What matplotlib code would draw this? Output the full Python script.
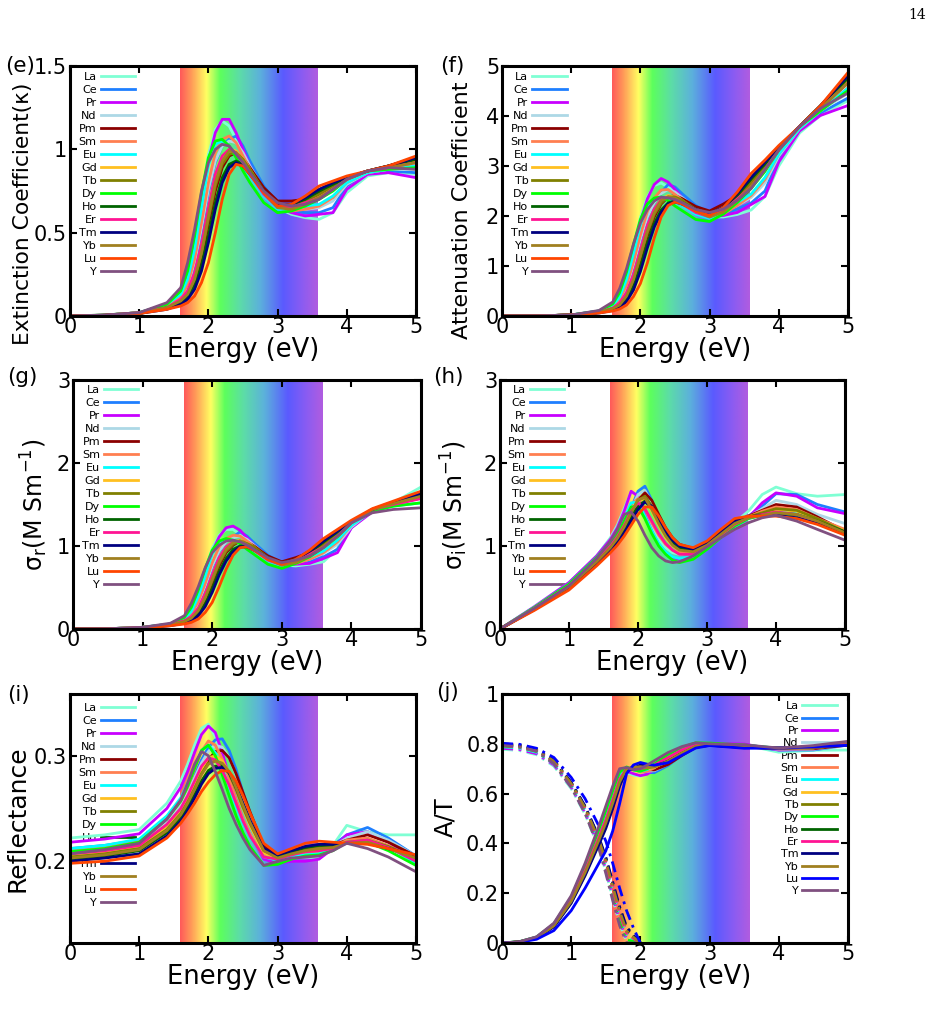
import numpy as np
import matplotlib.pyplot as plt
from matplotlib.colors import LinearSegmentedColormap
from matplotlib.ticker import FuncFormatter

plt.rcParams['font.family'] = ['DejaVu Sans']
plt.rcParams['mathtext.fontset'] = 'dejavusans'

elements = ['La', 'Ce', 'Pr', 'Nd', 'Pm', 'Sm', 'Eu', 'Gd', 'Tb', 'Dy', 'Ho', 'Er', 'Tm', 'Yb', 'Lu', 'Y']
colors = ['#7fffd4', '#1e7fff', '#c800ff', '#add8e6', '#8b0000', '#ff7f50', '#00ffff', '#ffc020',
          '#808000', '#00ff00', '#006400', '#ff1493', '#000080', '#a08020', '#ff4500', '#805080']
colors_j = colors[:14] + ['#0000ff', '#805080']

# photon energy grid (eV) for panels e-i
energy = [0, 0.5, 1.0, 1.4, 1.6, 1.7, 1.8, 1.9, 2.0, 2.1, 2.2, 2.3, 2.4, 2.5, 2.6,
          2.8, 3.0, 3.2, 3.4, 3.6, 3.8, 4.0, 4.3, 4.6, 5.0]

# (e) extinction coefficient
kappa = [
    [0, 0.005, 0.02, 0.07, 0.14, 0.25, 0.45, 0.72, 0.97, 1.12, 1.17, 1.14, 1.06, 0.97, 0.88, 0.74, 0.65, 0.61, 0.59, 0.58, 0.62, 0.74, 0.84, 0.86, 0.85],  # La
    [0, 0.005, 0.02, 0.06, 0.10, 0.17, 0.30, 0.50, 0.74, 0.92, 1.02, 1.06, 1.08, 1.02, 0.93, 0.78, 0.67, 0.63, 0.62, 0.62, 0.65, 0.78, 0.86, 0.87, 0.86],  # Ce
    [0, 0.005, 0.02, 0.07, 0.13, 0.23, 0.42, 0.68, 0.93, 1.10, 1.18, 1.18, 1.10, 1.00, 0.90, 0.75, 0.65, 0.62, 0.60, 0.61, 0.62, 0.76, 0.85, 0.86, 0.83],  # Pr
    [0, 0.005, 0.02, 0.06, 0.11, 0.18, 0.32, 0.53, 0.76, 0.93, 1.02, 1.05, 1.04, 0.98, 0.90, 0.76, 0.67, 0.64, 0.64, 0.65, 0.69, 0.79, 0.86, 0.88, 0.88],  # Nd
    [0, 0.004, 0.015, 0.05, 0.08, 0.12, 0.20, 0.34, 0.55, 0.75, 0.89, 0.96, 0.98, 0.95, 0.89, 0.77, 0.69, 0.69, 0.70, 0.74, 0.78, 0.83, 0.87, 0.90, 0.95],  # Pm
    [0, 0.005, 0.02, 0.06, 0.11, 0.19, 0.34, 0.56, 0.80, 0.98, 1.06, 1.08, 1.04, 0.96, 0.88, 0.74, 0.65, 0.63, 0.64, 0.66, 0.71, 0.80, 0.86, 0.88, 0.90],  # Sm
    [0, 0.005, 0.02, 0.07, 0.13, 0.22, 0.40, 0.65, 0.90, 1.03, 1.05, 1.02, 0.96, 0.90, 0.84, 0.72, 0.64, 0.64, 0.66, 0.67, 0.72, 0.80, 0.86, 0.88, 0.90],  # Eu
    [0, 0.005, 0.02, 0.05, 0.09, 0.14, 0.24, 0.40, 0.62, 0.82, 0.95, 1.00, 0.99, 0.94, 0.87, 0.74, 0.66, 0.66, 0.69, 0.72, 0.77, 0.82, 0.87, 0.89, 0.93],  # Gd
    [0, 0.004, 0.015, 0.05, 0.09, 0.13, 0.22, 0.37, 0.58, 0.78, 0.91, 0.97, 0.98, 0.94, 0.88, 0.75, 0.66, 0.66, 0.69, 0.73, 0.78, 0.83, 0.87, 0.90, 0.94],  # Tb
    [0, 0.006, 0.02, 0.07, 0.15, 0.27, 0.48, 0.74, 0.95, 1.05, 1.06, 1.02, 0.95, 0.87, 0.80, 0.68, 0.62, 0.63, 0.66, 0.70, 0.75, 0.82, 0.87, 0.88, 0.89],  # Dy
    [0, 0.004, 0.015, 0.05, 0.08, 0.11, 0.18, 0.30, 0.48, 0.68, 0.83, 0.91, 0.93, 0.91, 0.86, 0.75, 0.67, 0.67, 0.70, 0.75, 0.79, 0.83, 0.87, 0.90, 0.94],  # Ho
    [0, 0.005, 0.02, 0.05, 0.10, 0.15, 0.26, 0.43, 0.65, 0.85, 0.96, 1.00, 0.98, 0.92, 0.85, 0.73, 0.65, 0.65, 0.68, 0.71, 0.76, 0.82, 0.87, 0.89, 0.92],  # Er
    [0, 0.004, 0.015, 0.04, 0.07, 0.10, 0.16, 0.27, 0.44, 0.64, 0.80, 0.89, 0.92, 0.90, 0.85, 0.75, 0.67, 0.67, 0.71, 0.76, 0.80, 0.83, 0.87, 0.90, 0.95],  # Tm
    [0, 0.004, 0.015, 0.05, 0.09, 0.13, 0.22, 0.38, 0.60, 0.80, 0.93, 0.99, 0.98, 0.93, 0.86, 0.74, 0.65, 0.64, 0.67, 0.71, 0.76, 0.82, 0.87, 0.89, 0.92],  # Yb
    [0, 0.004, 0.015, 0.04, 0.06, 0.08, 0.12, 0.20, 0.32, 0.50, 0.70, 0.85, 0.91, 0.90, 0.85, 0.74, 0.66, 0.67, 0.72, 0.78, 0.81, 0.84, 0.87, 0.90, 0.96],  # Lu
    [0, 0.006, 0.02, 0.08, 0.17, 0.32, 0.52, 0.75, 0.92, 1.00, 1.03, 1.02, 0.97, 0.92, 0.86, 0.75, 0.68, 0.66, 0.67, 0.70, 0.76, 0.82, 0.87, 0.89, 0.88],  # Y
]

# (f) attenuation coefficient
alpha = [
    [0, 0.003, 0.02, 0.10, 0.23, 0.43, 0.82, 1.39, 1.97, 2.38, 2.61, 2.66, 2.58, 2.46, 2.32, 2.10, 1.98, 1.98, 2.03, 2.12, 2.39, 3.00, 3.66, 4.01, 4.31],  # La
    [0, 0.003, 0.02, 0.09, 0.16, 0.29, 0.55, 0.96, 1.50, 1.96, 2.27, 2.47, 2.63, 2.58, 2.45, 2.21, 2.04, 2.04, 2.14, 2.26, 2.50, 3.16, 3.75, 4.06, 4.36],  # Ce
    [0, 0.003, 0.02, 0.10, 0.21, 0.40, 0.77, 1.31, 1.89, 2.34, 2.63, 2.75, 2.68, 2.53, 2.37, 2.13, 1.98, 2.01, 2.07, 2.23, 2.39, 3.08, 3.70, 4.01, 4.21],  # Pr
    [0, 0.003, 0.02, 0.09, 0.18, 0.31, 0.58, 1.02, 1.54, 1.98, 2.27, 2.45, 2.53, 2.48, 2.37, 2.16, 2.04, 2.08, 2.21, 2.37, 2.66, 3.20, 3.75, 4.10, 4.46],  # Nd
    [0, 0.002, 0.02, 0.07, 0.13, 0.21, 0.36, 0.65, 1.11, 1.60, 1.98, 2.24, 2.38, 2.41, 2.35, 2.19, 2.10, 2.24, 2.41, 2.70, 3.00, 3.36, 3.79, 4.20, 4.81],  # Pm
    [0, 0.003, 0.02, 0.09, 0.18, 0.33, 0.62, 1.08, 1.62, 2.09, 2.36, 2.52, 2.53, 2.43, 2.32, 2.10, 1.98, 2.04, 2.21, 2.41, 2.73, 3.24, 3.75, 4.10, 4.56],  # Sm
    [0, 0.003, 0.02, 0.10, 0.21, 0.38, 0.73, 1.25, 1.82, 2.19, 2.34, 2.38, 2.34, 2.28, 2.21, 2.04, 1.95, 2.08, 2.27, 2.44, 2.77, 3.24, 3.75, 4.10, 4.56],  # Eu
    [0, 0.003, 0.02, 0.07, 0.15, 0.24, 0.44, 0.77, 1.26, 1.75, 2.12, 2.33, 2.41, 2.38, 2.29, 2.10, 2.01, 2.14, 2.38, 2.63, 2.97, 3.32, 3.79, 4.15, 4.71],  # Gd
    [0, 0.002, 0.02, 0.07, 0.15, 0.22, 0.40, 0.71, 1.18, 1.66, 2.03, 2.26, 2.38, 2.38, 2.32, 2.13, 2.01, 2.14, 2.38, 2.66, 3.00, 3.36, 3.79, 4.20, 4.76],  # Tb
    [0, 0.003, 0.02, 0.10, 0.24, 0.47, 0.88, 1.43, 1.93, 2.24, 2.36, 2.38, 2.31, 2.20, 2.11, 1.93, 1.89, 2.04, 2.27, 2.55, 2.89, 3.32, 3.79, 4.10, 4.51],  # Dy
    [0, 0.002, 0.02, 0.07, 0.13, 0.19, 0.33, 0.58, 0.97, 1.45, 1.85, 2.12, 2.26, 2.31, 2.27, 2.13, 2.04, 2.17, 2.41, 2.74, 3.04, 3.36, 3.79, 4.20, 4.76],  # Ho
    [0, 0.003, 0.02, 0.07, 0.16, 0.26, 0.47, 0.83, 1.32, 1.81, 2.14, 2.33, 2.38, 2.33, 2.24, 2.07, 1.98, 2.11, 2.34, 2.59, 2.93, 3.32, 3.79, 4.15, 4.66],  # Er
    [0, 0.002, 0.02, 0.06, 0.11, 0.17, 0.29, 0.52, 0.89, 1.36, 1.78, 2.07, 2.24, 2.28, 2.24, 2.13, 2.04, 2.17, 2.45, 2.77, 3.08, 3.36, 3.79, 4.20, 4.81],  # Tm
    [0, 0.002, 0.02, 0.07, 0.15, 0.22, 0.40, 0.73, 1.22, 1.70, 2.07, 2.31, 2.38, 2.36, 2.27, 2.10, 1.98, 2.08, 2.31, 2.59, 2.93, 3.32, 3.79, 4.15, 4.66],  # Yb
    [0, 0.002, 0.02, 0.06, 0.10, 0.14, 0.22, 0.39, 0.65, 1.06, 1.56, 1.98, 2.21, 2.28, 2.24, 2.10, 2.01, 2.17, 2.48, 2.85, 3.12, 3.41, 3.79, 4.20, 4.87],  # Lu
    [0, 0.003, 0.02, 0.11, 0.28, 0.55, 0.95, 1.44, 1.86, 2.13, 2.30, 2.38, 2.36, 2.33, 2.27, 2.13, 2.07, 2.14, 2.31, 2.55, 2.93, 3.32, 3.79, 4.15, 4.46],  # Y
]

# (g) real part of optical conductivity
sigma_r = [
    [0, 0.003, 0.02, 0.06, 0.13, 0.24, 0.44, 0.71, 0.97, 1.13, 1.20, 1.20, 1.14, 1.07, 0.99, 0.84, 0.77, 0.76, 0.78, 0.81, 0.97, 1.28, 1.42, 1.52, 1.71],  # La
    [0, 0.003, 0.02, 0.05, 0.10, 0.16, 0.29, 0.50, 0.74, 0.93, 1.05, 1.11, 1.17, 1.12, 1.04, 0.89, 0.79, 0.79, 0.82, 0.87, 0.96, 1.22, 1.43, 1.50, 1.62],  # Ce
    [0, 0.003, 0.02, 0.06, 0.12, 0.22, 0.41, 0.67, 0.93, 1.11, 1.22, 1.24, 1.19, 1.10, 1.01, 0.86, 0.77, 0.78, 0.79, 0.85, 0.92, 1.22, 1.41, 1.50, 1.58],  # Pr
    [0, 0.003, 0.02, 0.05, 0.10, 0.17, 0.31, 0.52, 0.76, 0.94, 1.05, 1.10, 1.12, 1.08, 1.01, 0.87, 0.79, 0.80, 0.84, 0.91, 1.02, 1.23, 1.43, 1.50, 1.63],  # Nd
    [0, 0.002, 0.01, 0.05, 0.08, 0.12, 0.20, 0.34, 0.55, 0.76, 0.92, 1.01, 1.06, 1.05, 1.00, 0.88, 0.81, 0.86, 0.92, 1.04, 1.15, 1.29, 1.44, 1.52, 1.62],  # Pm
    [0, 0.003, 0.02, 0.05, 0.10, 0.18, 0.33, 0.55, 0.80, 0.99, 1.09, 1.13, 1.12, 1.06, 0.99, 0.84, 0.77, 0.79, 0.84, 0.92, 1.05, 1.25, 1.43, 1.50, 1.58],  # Sm
    [0, 0.003, 0.02, 0.06, 0.12, 0.21, 0.39, 0.64, 0.90, 1.04, 1.08, 1.07, 1.04, 0.99, 0.94, 0.82, 0.76, 0.80, 0.87, 0.94, 1.07, 1.25, 1.42, 1.48, 1.52],  # Eu
    [0, 0.003, 0.02, 0.05, 0.09, 0.14, 0.24, 0.40, 0.62, 0.83, 0.98, 1.05, 1.07, 1.03, 0.97, 0.84, 0.78, 0.83, 0.91, 1.01, 1.14, 1.28, 1.44, 1.52, 1.60],  # Gd
    [0, 0.002, 0.01, 0.05, 0.09, 0.13, 0.22, 0.37, 0.58, 0.79, 0.94, 1.02, 1.06, 1.03, 0.99, 0.86, 0.78, 0.83, 0.91, 1.02, 1.15, 1.29, 1.44, 1.52, 1.62],  # Tb
    [0, 0.003, 0.02, 0.06, 0.14, 0.26, 0.47, 0.73, 0.95, 1.06, 1.09, 1.07, 1.03, 0.96, 0.90, 0.78, 0.73, 0.79, 0.87, 0.98, 1.11, 1.28, 1.42, 1.48, 1.52],  # Dy
    [0, 0.002, 0.01, 0.05, 0.08, 0.11, 0.18, 0.30, 0.48, 0.69, 0.85, 0.96, 1.00, 1.00, 0.96, 0.86, 0.79, 0.84, 0.92, 1.05, 1.17, 1.29, 1.44, 1.52, 1.60],  # Ho
    [0, 0.003, 0.02, 0.05, 0.10, 0.15, 0.25, 0.43, 0.65, 0.86, 0.99, 1.05, 1.06, 1.01, 0.95, 0.83, 0.77, 0.81, 0.90, 0.99, 1.12, 1.28, 1.44, 1.50, 1.57],  # Er
    [0, 0.002, 0.01, 0.04, 0.07, 0.10, 0.16, 0.27, 0.44, 0.65, 0.82, 0.93, 0.99, 0.99, 0.95, 0.86, 0.79, 0.84, 0.94, 1.06, 1.18, 1.29, 1.44, 1.53, 1.63],  # Tm
    [0, 0.002, 0.01, 0.05, 0.09, 0.13, 0.22, 0.38, 0.60, 0.81, 0.96, 1.04, 1.06, 1.02, 0.96, 0.84, 0.77, 0.80, 0.88, 0.99, 1.12, 1.28, 1.44, 1.51, 1.60],  # Yb
    [0, 0.002, 0.01, 0.04, 0.06, 0.08, 0.12, 0.20, 0.32, 0.51, 0.72, 0.89, 0.98, 0.99, 0.95, 0.84, 0.78, 0.84, 0.95, 1.09, 1.20, 1.31, 1.45, 1.54, 1.66],  # Lu
    [0, 0.003, 0.02, 0.07, 0.16, 0.31, 0.51, 0.74, 0.92, 1.01, 1.06, 1.07, 1.05, 1.01, 0.96, 0.86, 0.80, 0.83, 0.88, 0.98, 1.12, 1.28, 1.40, 1.44, 1.46],  # Y
]

# (h) imaginary part of optical conductivity
sigma_i = [
    [0, 0.27, 0.56, 0.88, 1.10, 1.25, 1.45, 1.65, 1.62, 1.42, 1.22, 1.08, 0.98, 0.92, 0.90, 0.92, 1.02, 1.14, 1.28, 1.42, 1.62, 1.71, 1.63, 1.60, 1.62],  # La
    [0, 0.255, 0.53, 0.84, 1.02, 1.13, 1.27, 1.45, 1.66, 1.72, 1.55, 1.33, 1.16, 1.06, 1.00, 0.95, 1.03, 1.14, 1.27, 1.36, 1.48, 1.63, 1.62, 1.50, 1.41],  # Ce
    [0, 0.27, 0.56, 0.88, 1.08, 1.22, 1.42, 1.66, 1.60, 1.38, 1.18, 1.02, 0.92, 0.86, 0.84, 0.86, 0.97, 1.10, 1.22, 1.34, 1.52, 1.64, 1.60, 1.46, 1.39],  # Pr
    [0, 0.255, 0.53, 0.84, 1.02, 1.13, 1.27, 1.44, 1.62, 1.67, 1.52, 1.32, 1.15, 1.04, 0.98, 0.94, 1.02, 1.13, 1.26, 1.35, 1.45, 1.55, 1.50, 1.38, 1.27],  # Nd
    [0, 0.24, 0.50, 0.80, 0.97, 1.07, 1.20, 1.36, 1.55, 1.64, 1.55, 1.38, 1.22, 1.10, 1.02, 0.97, 1.04, 1.17, 1.30, 1.36, 1.43, 1.50, 1.47, 1.35, 1.18],  # Pm
    [0, 0.25, 0.52, 0.83, 1.02, 1.14, 1.30, 1.50, 1.57, 1.45, 1.28, 1.13, 1.02, 0.95, 0.92, 0.93, 1.02, 1.14, 1.27, 1.35, 1.42, 1.47, 1.44, 1.33, 1.20],  # Sm
    [0, 0.26, 0.54, 0.86, 1.05, 1.17, 1.33, 1.52, 1.53, 1.36, 1.18, 1.03, 0.93, 0.87, 0.85, 0.87, 0.97, 1.10, 1.23, 1.33, 1.38, 1.42, 1.40, 1.30, 1.15],  # Eu
    [0, 0.245, 0.51, 0.82, 0.99, 1.10, 1.24, 1.40, 1.56, 1.56, 1.42, 1.25, 1.10, 1.00, 0.95, 0.94, 1.02, 1.15, 1.28, 1.35, 1.40, 1.44, 1.42, 1.32, 1.18],  # Gd
    [0, 0.24, 0.50, 0.81, 0.98, 1.08, 1.22, 1.38, 1.55, 1.60, 1.48, 1.30, 1.15, 1.04, 0.98, 0.95, 1.02, 1.15, 1.28, 1.35, 1.40, 1.45, 1.43, 1.33, 1.17],  # Tb
    [0, 0.26, 0.54, 0.86, 1.04, 1.15, 1.30, 1.47, 1.48, 1.33, 1.15, 1.00, 0.90, 0.83, 0.80, 0.84, 0.96, 1.10, 1.24, 1.33, 1.37, 1.40, 1.37, 1.27, 1.14],  # Dy
    [0, 0.24, 0.50, 0.80, 0.96, 1.06, 1.18, 1.33, 1.48, 1.54, 1.46, 1.30, 1.15, 1.04, 0.98, 0.95, 1.03, 1.16, 1.29, 1.35, 1.38, 1.40, 1.38, 1.30, 1.17],  # Ho
    [0, 0.25, 0.52, 0.83, 1.00, 1.11, 1.25, 1.42, 1.52, 1.45, 1.30, 1.15, 1.03, 0.95, 0.90, 0.90, 1.00, 1.13, 1.26, 1.34, 1.38, 1.41, 1.38, 1.28, 1.15],  # Er
    [0, 0.235, 0.49, 0.79, 0.95, 1.04, 1.16, 1.30, 1.44, 1.53, 1.48, 1.33, 1.18, 1.07, 1.00, 0.96, 1.03, 1.16, 1.30, 1.35, 1.37, 1.37, 1.34, 1.27, 1.16],  # Tm
    [0, 0.245, 0.51, 0.81, 0.98, 1.09, 1.23, 1.40, 1.56, 1.58, 1.44, 1.27, 1.12, 1.01, 0.95, 0.93, 1.01, 1.14, 1.27, 1.34, 1.37, 1.40, 1.38, 1.30, 1.16],  # Yb
    [0, 0.225, 0.47, 0.76, 0.92, 1.01, 1.12, 1.25, 1.38, 1.47, 1.47, 1.36, 1.22, 1.10, 1.02, 0.98, 1.06, 1.20, 1.33, 1.36, 1.36, 1.36, 1.33, 1.26, 1.13],  # Lu
    [0, 0.25, 0.52, 0.85, 1.06, 1.20, 1.38, 1.41, 1.30, 1.13, 0.98, 0.88, 0.82, 0.80, 0.81, 0.88, 0.99, 1.10, 1.20, 1.28, 1.34, 1.37, 1.30, 1.20, 1.07],  # Y
]

# (i) reflectance
refl = [
    [0.222, 0.225, 0.230, 0.255, 0.276, 0.292, 0.310, 0.326, 0.330, 0.318, 0.298, 0.275, 0.256, 0.240, 0.226, 0.205, 0.203, 0.205, 0.204, 0.203, 0.215, 0.234, 0.228, 0.225, 0.225],  # La
    [0.212, 0.215, 0.220, 0.240, 0.256, 0.268, 0.282, 0.296, 0.308, 0.315, 0.316, 0.305, 0.287, 0.265, 0.245, 0.212, 0.203, 0.205, 0.207, 0.210, 0.215, 0.225, 0.232, 0.222, 0.205],  # Ce
    [0.218, 0.221, 0.226, 0.250, 0.270, 0.285, 0.303, 0.320, 0.328, 0.322, 0.303, 0.280, 0.258, 0.240, 0.225, 0.202, 0.198, 0.200, 0.200, 0.202, 0.212, 0.225, 0.228, 0.218, 0.200],  # Pr
    [0.210, 0.213, 0.218, 0.238, 0.253, 0.265, 0.279, 0.293, 0.304, 0.310, 0.308, 0.298, 0.282, 0.262, 0.243, 0.212, 0.204, 0.206, 0.208, 0.210, 0.214, 0.222, 0.228, 0.220, 0.205],  # Nd
    [0.206, 0.209, 0.214, 0.232, 0.246, 0.257, 0.270, 0.284, 0.296, 0.304, 0.305, 0.298, 0.283, 0.265, 0.247, 0.214, 0.206, 0.210, 0.213, 0.214, 0.215, 0.220, 0.225, 0.218, 0.205],  # Pm
    [0.210, 0.213, 0.219, 0.240, 0.257, 0.270, 0.287, 0.304, 0.314, 0.310, 0.297, 0.278, 0.258, 0.240, 0.226, 0.205, 0.201, 0.204, 0.207, 0.209, 0.213, 0.220, 0.222, 0.215, 0.200],  # Sm
    [0.212, 0.215, 0.221, 0.243, 0.260, 0.274, 0.290, 0.305, 0.310, 0.303, 0.288, 0.270, 0.252, 0.236, 0.223, 0.204, 0.201, 0.204, 0.206, 0.207, 0.212, 0.218, 0.220, 0.214, 0.198],  # Eu
    [0.205, 0.208, 0.213, 0.232, 0.247, 0.258, 0.272, 0.287, 0.298, 0.300, 0.295, 0.284, 0.268, 0.250, 0.234, 0.208, 0.203, 0.207, 0.210, 0.212, 0.213, 0.218, 0.220, 0.214, 0.202],  # Gd
    [0.204, 0.207, 0.212, 0.230, 0.245, 0.256, 0.269, 0.283, 0.293, 0.295, 0.292, 0.283, 0.268, 0.251, 0.236, 0.210, 0.204, 0.208, 0.211, 0.213, 0.214, 0.218, 0.220, 0.214, 0.203],  # Tb
    [0.209, 0.212, 0.218, 0.240, 0.257, 0.271, 0.288, 0.305, 0.310, 0.300, 0.282, 0.262, 0.243, 0.227, 0.214, 0.196, 0.197, 0.202, 0.205, 0.206, 0.210, 0.218, 0.218, 0.210, 0.196],  # Dy
    [0.202, 0.205, 0.210, 0.227, 0.241, 0.251, 0.263, 0.276, 0.286, 0.290, 0.290, 0.284, 0.270, 0.254, 0.238, 0.211, 0.205, 0.209, 0.213, 0.215, 0.215, 0.217, 0.218, 0.212, 0.204],  # Ho
    [0.207, 0.210, 0.215, 0.235, 0.250, 0.262, 0.276, 0.290, 0.298, 0.296, 0.286, 0.272, 0.255, 0.238, 0.224, 0.204, 0.202, 0.206, 0.209, 0.210, 0.212, 0.218, 0.220, 0.213, 0.200],  # Er
    [0.200, 0.203, 0.207, 0.224, 0.238, 0.248, 0.260, 0.273, 0.283, 0.288, 0.289, 0.284, 0.271, 0.255, 0.239, 0.212, 0.206, 0.210, 0.214, 0.216, 0.216, 0.217, 0.217, 0.212, 0.205],  # Tm
    [0.203, 0.206, 0.211, 0.229, 0.244, 0.255, 0.268, 0.282, 0.292, 0.295, 0.293, 0.285, 0.270, 0.253, 0.237, 0.210, 0.203, 0.207, 0.210, 0.212, 0.213, 0.217, 0.218, 0.212, 0.203],  # Yb
    [0.198, 0.200, 0.205, 0.222, 0.236, 0.245, 0.255, 0.266, 0.275, 0.282, 0.286, 0.285, 0.276, 0.262, 0.246, 0.217, 0.207, 0.212, 0.217, 0.219, 0.218, 0.217, 0.216, 0.212, 0.206],  # Lu
    [0.207, 0.211, 0.217, 0.240, 0.258, 0.274, 0.292, 0.304, 0.300, 0.285, 0.268, 0.250, 0.235, 0.222, 0.211, 0.196, 0.200, 0.203, 0.204, 0.205, 0.210, 0.217, 0.212, 0.204, 0.190],  # Y
]

# (j) absorbance (solid) and transmittance (dash-dot)
energy_a = [0, 0.25, 0.5, 0.75, 1.0, 1.2, 1.4, 1.5, 1.6, 1.7, 1.8, 1.9, 2.0, 2.1, 2.2,
            2.4, 2.6, 2.8, 3.0, 3.5, 4.0, 4.5, 5.0]
absorb = [
    [0, 0.005, 0.024, 0.076, 0.183, 0.308, 0.452, 0.528, 0.608, 0.680, 0.685, 0.674, 0.670, 0.682, 0.702, 0.744, 0.774, 0.795, 0.797, 0.796, 0.766, 0.774, 0.775],  # La
    [0, 0.004, 0.022, 0.071, 0.172, 0.290, 0.425, 0.496, 0.576, 0.658, 0.695, 0.700, 0.692, 0.685, 0.684, 0.713, 0.755, 0.788, 0.797, 0.792, 0.775, 0.775, 0.795],  # Ce
    [0, 0.005, 0.024, 0.076, 0.181, 0.305, 0.448, 0.523, 0.603, 0.679, 0.690, 0.680, 0.672, 0.678, 0.697, 0.742, 0.775, 0.798, 0.802, 0.799, 0.775, 0.779, 0.800],  # Pr
    [0, 0.005, 0.023, 0.073, 0.175, 0.295, 0.433, 0.505, 0.585, 0.665, 0.700, 0.703, 0.696, 0.690, 0.692, 0.718, 0.757, 0.788, 0.796, 0.791, 0.778, 0.778, 0.795],  # Nd
    [0, 0.004, 0.021, 0.067, 0.165, 0.278, 0.407, 0.474, 0.554, 0.641, 0.697, 0.700, 0.704, 0.696, 0.695, 0.717, 0.753, 0.786, 0.794, 0.787, 0.780, 0.780, 0.795],  # Pm
    [0, 0.005, 0.023, 0.073, 0.177, 0.298, 0.437, 0.510, 0.590, 0.669, 0.703, 0.696, 0.686, 0.690, 0.703, 0.742, 0.774, 0.795, 0.799, 0.792, 0.780, 0.783, 0.800],  # Sm
    [0, 0.005, 0.023, 0.075, 0.179, 0.302, 0.443, 0.518, 0.598, 0.675, 0.705, 0.695, 0.690, 0.697, 0.712, 0.748, 0.777, 0.796, 0.799, 0.794, 0.782, 0.784, 0.802],  # Eu
    [0, 0.004, 0.022, 0.070, 0.170, 0.287, 0.420, 0.490, 0.570, 0.654, 0.700, 0.705, 0.702, 0.700, 0.705, 0.732, 0.766, 0.792, 0.797, 0.789, 0.782, 0.784, 0.798],  # Gd
    [0, 0.004, 0.021, 0.069, 0.167, 0.282, 0.413, 0.482, 0.562, 0.647, 0.699, 0.705, 0.707, 0.705, 0.708, 0.732, 0.764, 0.790, 0.796, 0.788, 0.782, 0.784, 0.797],  # Tb
    [0, 0.005, 0.024, 0.077, 0.184, 0.310, 0.455, 0.532, 0.612, 0.686, 0.707, 0.695, 0.690, 0.700, 0.718, 0.757, 0.786, 0.804, 0.803, 0.795, 0.782, 0.787, 0.804],  # Dy
    [0, 0.004, 0.021, 0.067, 0.163, 0.275, 0.403, 0.469, 0.549, 0.637, 0.696, 0.700, 0.712, 0.710, 0.710, 0.730, 0.762, 0.789, 0.795, 0.786, 0.783, 0.786, 0.796],  # Ho
    [0, 0.004, 0.022, 0.071, 0.172, 0.290, 0.425, 0.496, 0.576, 0.658, 0.701, 0.703, 0.702, 0.704, 0.714, 0.745, 0.776, 0.796, 0.798, 0.790, 0.782, 0.785, 0.800],  # Er
    [0, 0.004, 0.020, 0.065, 0.160, 0.270, 0.395, 0.460, 0.540, 0.630, 0.695, 0.700, 0.715, 0.712, 0.711, 0.729, 0.761, 0.788, 0.794, 0.785, 0.783, 0.786, 0.795],  # Tm
    [0, 0.004, 0.021, 0.069, 0.167, 0.282, 0.413, 0.482, 0.562, 0.647, 0.699, 0.705, 0.708, 0.705, 0.707, 0.730, 0.763, 0.790, 0.797, 0.789, 0.783, 0.786, 0.797],  # Yb
    [0, 0.003, 0.015, 0.050, 0.130, 0.220, 0.320, 0.370, 0.450, 0.560, 0.680, 0.715, 0.725, 0.718, 0.714, 0.724, 0.754, 0.783, 0.793, 0.782, 0.783, 0.788, 0.794],  # Lu
    [0, 0.005, 0.025, 0.080, 0.190, 0.320, 0.470, 0.550, 0.630, 0.700, 0.705, 0.696, 0.700, 0.715, 0.732, 0.765, 0.789, 0.804, 0.800, 0.796, 0.783, 0.793, 0.810],  # Y
]

energy_t = [0, 0.25, 0.5, 0.75, 1.0, 1.2, 1.4, 1.5, 1.6, 1.7, 1.8, 1.9, 2.0]
transm = [
    [0.778, 0.773, 0.756, 0.710, 0.620, 0.517, 0.381, 0.286, 0.178, 0.078, 0.006, 0, 0],  # La
    [0.788, 0.783, 0.766, 0.722, 0.637, 0.538, 0.407, 0.319, 0.215, 0.115, 0.039, 0.018, 0],  # Ce
    [0.782, 0.777, 0.760, 0.715, 0.626, 0.524, 0.389, 0.295, 0.188, 0.088, 0.015, 0.004, 0],  # Pr
    [0.790, 0.785, 0.768, 0.724, 0.635, 0.535, 0.403, 0.313, 0.208, 0.108, 0.033, 0.015, 0],  # Nd
    [0.794, 0.789, 0.772, 0.729, 0.642, 0.545, 0.418, 0.335, 0.233, 0.133, 0.055, 0.025, 0],  # Pm
    [0.790, 0.785, 0.768, 0.723, 0.634, 0.533, 0.400, 0.309, 0.203, 0.103, 0.029, 0.013, 0],  # Sm
    [0.788, 0.783, 0.766, 0.720, 0.632, 0.531, 0.396, 0.303, 0.197, 0.097, 0.023, 0.011, 0],  # Eu
    [0.795, 0.790, 0.773, 0.728, 0.638, 0.540, 0.410, 0.323, 0.220, 0.120, 0.043, 0.020, 0],  # Gd
    [0.796, 0.791, 0.774, 0.730, 0.640, 0.543, 0.414, 0.329, 0.227, 0.127, 0.049, 0.023, 0],  # Tb
    [0.791, 0.786, 0.769, 0.722, 0.629, 0.526, 0.389, 0.293, 0.185, 0.085, 0.013, 0.006, 0],  # Dy
    [0.798, 0.793, 0.776, 0.732, 0.643, 0.547, 0.420, 0.339, 0.238, 0.138, 0.059, 0.027, 0],  # Ho
    [0.793, 0.788, 0.771, 0.726, 0.637, 0.538, 0.407, 0.319, 0.215, 0.115, 0.039, 0.018, 0],  # Er
    [0.800, 0.795, 0.778, 0.735, 0.645, 0.550, 0.425, 0.345, 0.245, 0.145, 0.065, 0.030, 0],  # Tm
    [0.797, 0.792, 0.775, 0.731, 0.640, 0.543, 0.414, 0.329, 0.227, 0.127, 0.049, 0.023, 0],  # Yb
    [0.802, 0.798, 0.782, 0.745, 0.665, 0.580, 0.470, 0.410, 0.320, 0.220, 0.130, 0.060, 0],  # Lu
    [0.793, 0.788, 0.770, 0.720, 0.625, 0.520, 0.380, 0.280, 0.170, 0.070, 0, 0, 0],  # Y
]

# visible band colours (eV, colour)
band_stops = [(1.59, '#ff5a5a'), (1.75, '#ff9a58'), (1.97, '#ffff62'), (2.17, '#5cff5c'),
              (2.45, '#5cdca8'), (2.75, '#5cb0dc'), (3.08, '#5a5aff'), (3.35, '#8a5cf2'),
              (3.58, '#b05ce0')]

W, H = 946, 1019
fig = plt.figure(figsize=(W / 100, H / 100), dpi=100)


def px_axes(l, t, r, b):
    return fig.add_axes([l / W, 1 - b / H, (r - l) / W, (b - t) / H])


e0, e1 = band_stops[0][0], band_stops[-1][0]
band_cmap = LinearSegmentedColormap.from_list(
    'band', [((x - e0) / (e1 - e0), c) for x, c in band_stops])


def setup(ax, ylim, yticks, ylabel, ylsize, ylx, yly, leg_xy, spacing=0.27):
    ax.imshow(np.linspace(0, 1, 400)[None, :], cmap=band_cmap, aspect='auto',
              extent=[e0, e1, ylim[0], ylim[1]], zorder=0.5, interpolation='bilinear')
    ax.set_xlim(0, 5)
    ax.set_ylim(*ylim)
    ax.set_xticks(range(6))
    ax.set_yticks(yticks)
    fmt = FuncFormatter(lambda v, p: f'{v:g}')
    ax.xaxis.set_major_formatter(fmt)
    ax.yaxis.set_major_formatter(fmt)
    ax.tick_params(direction='in', top=True, right=True, length=5, width=1.5,
                   labelsize=15)
    ax.tick_params(axis='x', pad=1)
    ax.tick_params(axis='y', pad=2)
    for s in ax.spines.values():
        s.set_linewidth(2.2)
        s.set_zorder(5)
    ax.set_xlabel('Energy (eV)', fontsize=18.5)
    ax.xaxis.set_label_coords(0.5, -0.085)
    ax.set_ylabel(ylabel, fontsize=ylsize)
    ax.yaxis.set_label_coords(ylx, yly)
    leg = ax.legend(loc='upper right', bbox_to_anchor=leg_xy, frameon=False, fontsize=8,
                    markerfirst=False, handlelength=3.1, handletextpad=0.35,
                    labelspacing=spacing, borderpad=0, borderaxespad=0)
    leg.set_zorder(1)


panels = [
    ((70, 66, 416, 316), kappa, (0, 1.5), [0, 0.5, 1, 1.5], 'Extinction Coefficient(κ)', 15.7, -0.107, 0.41, (0.188, 0.975)),
    ((502, 66, 848, 316), alpha, (0, 5), range(6), 'Attenuation Coefficient', 16, -0.087, 0.424, (0.187, 0.975)),
    ((73, 380, 421, 629), sigma_r, (0, 3), range(4), 'σ$_\\mathrm{r}$(M Sm$^{-1}$)', 17, -0.066, 0.5, (0.188, 0.981)),
    ((500, 380, 845, 629), sigma_i, (0, 3), range(4), 'σ$_\\mathrm{i}$(M Sm$^{-1}$)', 17, -0.087, 0.5, (0.1855, 0.981)),
    ((70, 694, 416, 943), refl, (0.1225, 0.3585), [0.2, 0.3], 'Reflectance', 18, -0.116, 0.5, (0.188, 0.965)),
]

for box, data, ylim, yticks, ylabel, ylsize, ylx, yly, leg_xy in panels:
    ax = px_axes(*box)
    for k, el in enumerate(elements):
        ax.plot(energy, data[k], color=colors[k], lw=2, label=el, zorder=2)
    setup(ax, ylim, yticks, ylabel, ylsize, ylx, yly, leg_xy)

ax = px_axes(502, 694, 848, 943)
for k, el in enumerate(elements):
    ax.plot(energy_t, transm[k], color=colors_j[k], lw=2, ls=(0, (4, 2, 1, 2)), zorder=2)
for k, el in enumerate(elements):
    ax.plot(energy_a, absorb[k], color=colors_j[k], lw=2, label=el, zorder=2)
setup(ax, (0, 1), [0, 0.2, 0.4, 0.6, 0.8, 1], 'A/T', 17.5, -0.13, 0.504, (0.968, 0.971),
      spacing=0.21)

for txt, x, y in [('(e)', 20, 66), ('(f)', 452, 66), ('(g)', 22, 377), ('(h)', 448, 377),
                  ('(i)', 18, 695), ('(j)', 447, 692)]:
    fig.text(x / W, 1 - y / H, txt, fontsize=15.5, ha='center', va='center')

fig.text(917 / W, 1 - 15 / H, '14', fontsize=10, family='DejaVu Serif', ha='center', va='center')

fig.savefig('out.png', dpi=100)
